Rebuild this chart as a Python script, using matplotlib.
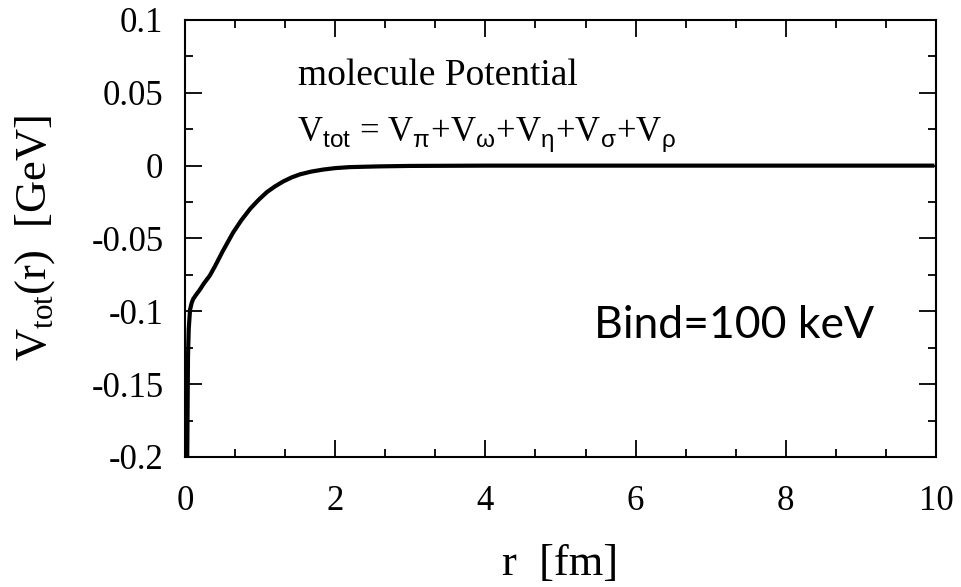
import numpy as np
import matplotlib.pyplot as plt
from matplotlib.ticker import MultipleLocator

plt.rcParams['font.family'] = ['Liberation Serif', 'DejaVu Serif']
plt.rcParams['mathtext.fontset'] = 'custom'
plt.rcParams['mathtext.rm'] = 'Liberation Serif'
plt.rcParams['mathtext.sf'] = 'Liberation Sans'

# potential V_tot(r)
r = [0.03, 0.035, 0.04, 0.05, 0.067, 0.09, 0.11, 0.15, 0.2, 0.25, 0.33, 0.4, 0.5,
     0.64, 0.75, 0.87, 0.98, 1.09, 1.2, 1.31, 1.42, 1.53, 1.68, 1.84, 2.0, 2.2,
     2.6, 3.0, 4.0, 6.0, 8.0, 9.95]
v = [-0.2, -0.165, -0.131, -0.112, -0.099, -0.094, -0.0915, -0.0885, -0.085, -0.081,
     -0.0755, -0.069, -0.059, -0.046, -0.0375, -0.0295, -0.0235, -0.0182, -0.0142,
     -0.0108, -0.0081, -0.006, -0.0041, -0.0027, -0.0017, -0.001, -0.0005, -0.0002,
     0.0, 0.0, 0.0, 0.0]

fig = plt.figure(figsize=(9.61, 5.87), dpi=100)
ax = fig.add_axes([0.1925, 0.2215, 0.7815, 0.7445])

ax.plot(r, v, color='black', lw=3, solid_joinstyle='round')

ax.set_xlim(0, 10)
ax.set_ylim(-0.2, 0.1)
ax.xaxis.set_major_locator(MultipleLocator(2))
ax.xaxis.set_minor_locator(MultipleLocator(2 / 3))
ax.yaxis.set_major_locator(MultipleLocator(0.05))
ax.yaxis.set_minor_locator(MultipleLocator(0.025))
ax.set_yticks([0.1, 0.05, 0, -0.05, -0.1, -0.15, -0.2])
ax.set_yticklabels(['0.1', '0.05', '0', '-0.05', '-0.1', '-0.15', '-0.2'])
ax.set_xticks([0, 2, 4, 6, 8, 10])
ax.set_xticklabels(['0', '2', '4', '6', '8', '10'])

ax.tick_params(which='both', direction='in', top=True, right=True, width=1.3, labelsize=25)
ax.tick_params(which='major', length=12)
ax.tick_params(which='minor', length=6)
ax.tick_params(axis='x', pad=20)
ax.tick_params(axis='y', pad=15.5)
for s in ax.spines.values():
    s.set_linewidth(1.5)

ax.set_xlabel('r  [fm]', fontsize=32, labelpad=19)
ax.set_ylabel(r'V$_{\mathrm{tot}}$(r)  [GeV]', fontsize=32, labelpad=25)

ax.text(1.51, 0.0555, 'molecule Potential', fontsize=27, ha='left', va='baseline')
ax.text(1.49, 0.0165,
        r'V$_\mathsf{tot}$ = V$_\mathsf{π}$+V$_\mathsf{ω}$+V$_\mathsf{η}$+V$_\mathsf{σ}$+V$_\mathsf{ρ}$',
        fontsize=25, ha='left', va='baseline')
ax.text(5.45, -0.118, 'Bind=100 keV', fontsize=32, ha='left', va='baseline',
        family=['Lato', 'DejaVu Sans'])

fig.savefig('out.png', dpi=100)
